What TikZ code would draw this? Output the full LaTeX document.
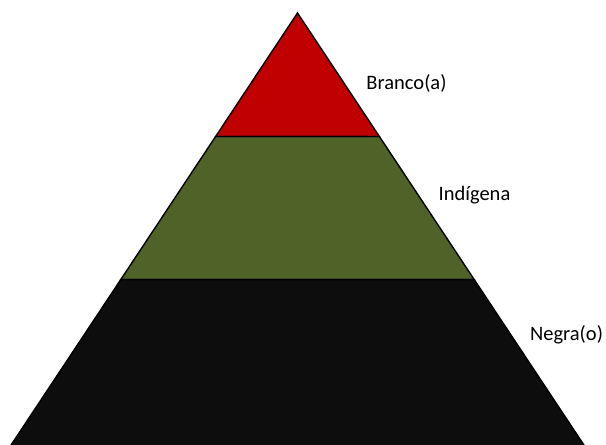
\documentclass[tikz,border=0pt]{standalone}
\usepackage{fontspec}
\setmainfont{Carlito}
\usetikzlibrary{calc}
\definecolor{topred}{HTML}{C00000}
\definecolor{midgreen}{HTML}{4F6228}
\definecolor{lowblack}{HTML}{0D0D0D}
\tikzset{
  band/.style={draw=black, line width=1.4pt, line join=miter},
  lbl/.style={font=\fontsize{20.5}{24}\selectfont, text=black, inner sep=0pt}
}
\begin{document}
\begin{tikzpicture}[x=1pt,y=-1pt]
\useasboundingbox (0,0) rectangle (606,445);
\clip (0,0) rectangle (606,445);
\coordinate (A) at (297.5,13);
\coordinate (BL) at (9.1,448);
\coordinate (BR) at (585.9,448);
\coordinate (L1) at ($(A)!0.2839!(BL)$);
\coordinate (R1) at ($(A)!0.2839!(BR)$);
\coordinate (L2) at ($(A)!0.6126!(BL)$);
\coordinate (R2) at ($(A)!0.6126!(BR)$);
\fill[lowblack] (L2) -- (R2) -- (BR) -- (BL) -- cycle;
\fill[midgreen] (L1) -- (R1) -- (R2) -- (L2) -- cycle;
\fill[topred] (A) -- (R1) -- (L1) -- cycle;
\draw[band] (A) -- (R1) -- (L1) -- cycle;
\draw[band] (L1) -- (R1) -- (R2) -- (L2) -- cycle;
\draw[band] (L2) -- (R2) -- (BR) -- (BL) -- cycle;
\node[lbl] (branco) at (406.5,83) {Branco(a)};
\node[lbl] (indigena) at (474.5,195) {Indígena};
\node[lbl] (negra) at (566.5,335) {Negra(o)};
\end{tikzpicture}
\end{document}
